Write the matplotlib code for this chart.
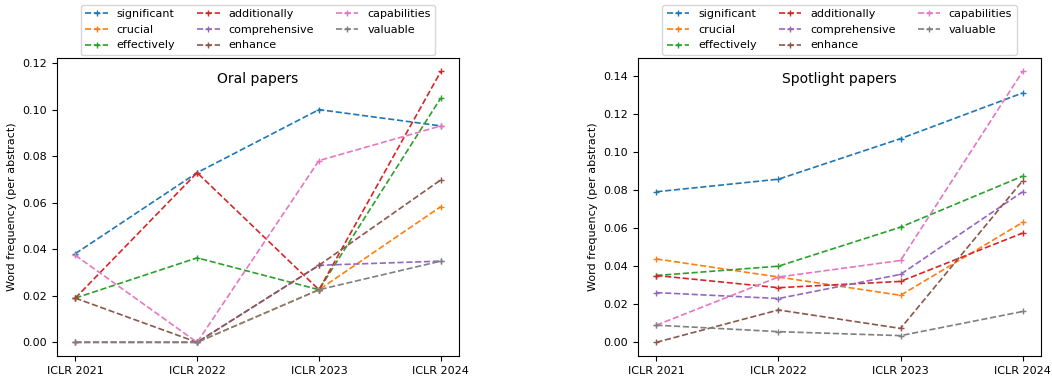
import numpy as np
import matplotlib
matplotlib.use("Agg")
import matplotlib.pyplot as plt

years = ["ICLR 2021", "ICLR 2022", "ICLR 2023", "ICLR 2024"]
words = ["significant", "crucial", "effectively", "additionally",
         "comprehensive", "enhance", "capabilities", "valuable"]

# word frequency per abstract, one list per word (2021..2024)
oral_significant = [0.0381, 0.0729, 0.1000, 0.0930]
oral_crucial = [0.0, 0.0, 0.0226, 0.0583]
oral_effectively = [0.0190, 0.0363, 0.0226, 0.1050]
oral_additionally = [0.0190, 0.0729, 0.0226, 0.1164]
oral_comprehensive = [0.0, 0.0, 0.0331, 0.0349]
oral_enhance = [0.0190, 0.0, 0.0331, 0.0698]
oral_capabilities = [0.0374, 0.0, 0.0781, 0.0930]
oral_valuable = [0.0, 0.0, 0.0226, 0.0349]

spot_significant = [0.0791, 0.0857, 0.1070, 0.1310]
spot_crucial = [0.0438, 0.0343, 0.0247, 0.0630]
spot_effectively = [0.0351, 0.0400, 0.0605, 0.0873]
spot_additionally = [0.0351, 0.0287, 0.0320, 0.0574]
spot_comprehensive = [0.0261, 0.0230, 0.0357, 0.0791]
spot_enhance = [0.0, 0.0170, 0.0073, 0.0849]
spot_capabilities = [0.0090, 0.0343, 0.0430, 0.1423]
spot_valuable = [0.0090, 0.0056, 0.0035, 0.0162]

oral = [oral_significant, oral_crucial, oral_effectively, oral_additionally,
        oral_comprehensive, oral_enhance, oral_capabilities, oral_valuable]
spot = [spot_significant, spot_crucial, spot_effectively, spot_additionally,
        spot_comprehensive, spot_enhance, spot_capabilities, spot_valuable]

fig = plt.figure(figsize=(10.52, 3.81), dpi=100)
ax1 = fig.add_axes([0.0542, 0.066, 0.3822, 0.782])
ax2 = fig.add_axes([0.6065, 0.066, 0.3830, 0.782])

for ax, data, title in [(ax1, oral, "Oral papers"), (ax2, spot, "Spotlight papers")]:
    for word, vals in zip(words, data):
        ax.plot(years, vals, "+--", label=word, linewidth=1.2, markersize=5)
    ax.set_ylabel("Word frequency (per abstract)", fontsize=8)
    ax.tick_params(labelsize=8)
    ax.text(0.5, 0.93, title, transform=ax.transAxes, ha="center", va="center", fontsize=10)
    ax.legend(loc="lower center", bbox_to_anchor=(0.5, 1.01), ncol=3, fontsize=8,
              handlelength=2, columnspacing=2.0, labelspacing=0.5, borderaxespad=0)

ax1.set_yticks(np.arange(0, 0.121, 0.02))
ax2.set_yticks(np.arange(0, 0.141, 0.02))

fig.savefig("out.png", dpi=100)
